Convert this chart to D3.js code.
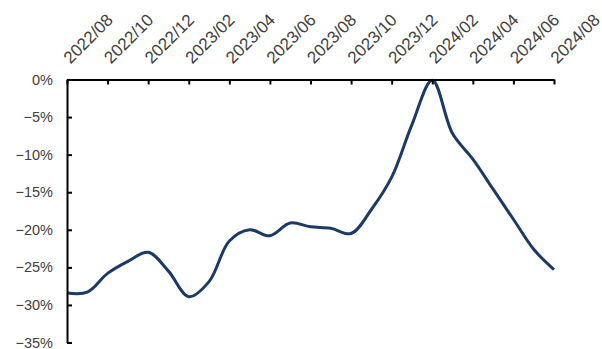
<!DOCTYPE html>
<html>
<head>
<meta charset="utf-8">
<script src="https://cdn.jsdelivr.net/npm/d3@7"></script>
<style>
  body { margin: 0; background: #fff; }
  svg text { font-family: "Liberation Sans", Arial, sans-serif; fill: #404040; }
</style>
</head>
<body>
<div id="chart"></div>
<script>
// monthly categories and series values (%)
var months = ["2022/08","2022/09","2022/10","2022/11","2022/12","2023/01","2023/02","2023/03",
  "2023/04","2023/05","2023/06","2023/07","2023/08","2023/09","2023/10","2023/11","2023/12",
  "2024/01","2024/02","2024/03","2024/04","2024/05","2024/06","2024/07","2024/08"]
var values = [-28.4,-28.3,-25.8,-24.2,-23.0,-25.5,-28.9,-26.9,
  -21.5,-20.0,-20.8,-19.1,-19.6,-19.8,-20.5,-17.3,-13.0,
  -6.0,-0.1,-7.2,-10.6,-14.6,-18.6,-22.6,-25.3]
var tickMonths = months.filter(function(d, i) { return i % 2 === 0 })
var yTicks = [0, -5, -10, -15, -20, -25, -30, -35]

var width = 602, height = 349
var margin = { top: 79.5, right: 48, bottom: 6.5, left: 67 }

var svg = d3.select("#chart")
  .append("svg")
    .attr("width", width)
    .attr("height", height)

var x = d3.scalePoint()
  .domain(months)
  .range([margin.left, width - margin.right])

var y = d3.scaleLinear()
  .domain([-35, 0])
  .range([height - margin.bottom, margin.top])

// Line
var line = d3.line()
  .x(function(d, i) { return x(months[i]) })
  .y(function(d) { return y(d) })
  .curve(d3.curveCatmullRom.alpha(0.5))

svg.append("path")
  .datum(values)
  .attr("fill", "none")
  .attr("stroke", "#1b3a66")
  .attr("stroke-width", 3)
  .attr("stroke-linejoin", "round")
  .attr("d", line)

// Y axis
var yAxis = svg.append("g")
  .attr("transform", "translate(" + margin.left + ",0)")
  .call(d3.axisLeft(y)
    .tickValues(yTicks)
    .tickSizeInner(-5)
    .tickSizeOuter(0)
    .tickPadding(14)
    .tickFormat(function(d) { return d3.format("d")(d) + "%" }))
yAxis.selectAll("path, line").attr("stroke", "#000").attr("stroke-width", 2)
yAxis.selectAll("text").attr("font-size", 14.5).attr("fill", "#404040")

// X axis on top
var xAxis = svg.append("g")
  .attr("transform", "translate(0," + margin.top + ")")
  .call(d3.axisTop(x)
    .tickValues(tickMonths)
    .tickSizeInner(-5)
    .tickSizeOuter(0))
xAxis.selectAll("path, line").attr("stroke", "#000").attr("stroke-width", 2)
xAxis.selectAll("text")
  .attr("font-size", 17)
  .attr("fill", "#404040")
  .attr("text-anchor", "start")
  .attr("x", 0)
  .attr("y", 0)
  .attr("dy", 0)
  .attr("transform", "translate(3,-15) rotate(-45)")
</script>
</body>
</html>
